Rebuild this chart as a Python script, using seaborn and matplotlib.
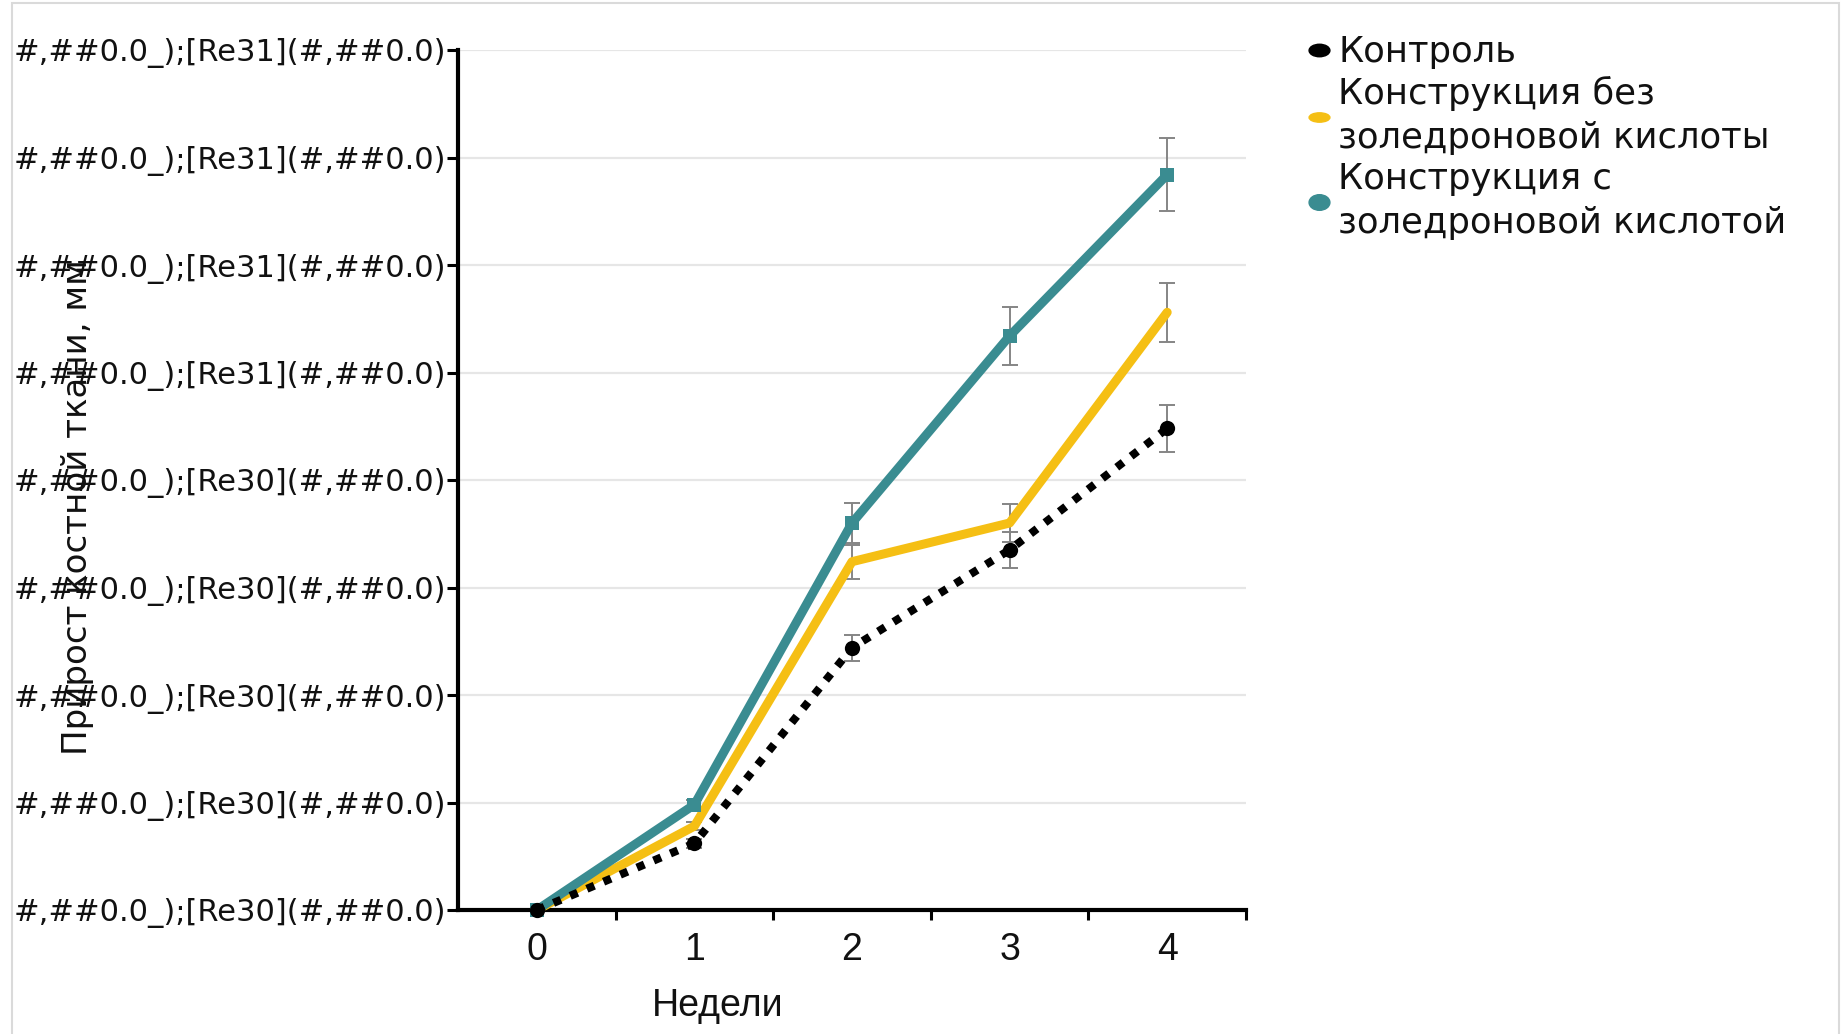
import numpy as np
import pandas as pd
import seaborn as sns
import matplotlib
matplotlib.use("Agg")
import matplotlib.pyplot as plt
from matplotlib.lines import Line2D
from matplotlib.path import Path
from matplotlib.transforms import Affine2D
from matplotlib.patches import Rectangle

# ---------------- data ----------------
weeks = [0, 1, 2, 3, 4]
week_labels = ["0", "1", "2", "3", "4"]

series_names = ["Контроль",
                "Конструкция без\nзоледроновой кислоты",
                "Конструкция с\nзоледроновой кислотой"]

control = [0.0, 0.31, 1.22, 1.675, 2.24]
control_err = [0.0, 0.02, 0.06, 0.085, 0.11]

no_zol = [0.0, 0.39, 1.62, 1.80, 2.78]
no_zol_err = [0.0, 0.02, 0.08, 0.09, 0.137]

with_zol = [0.0, 0.49, 1.80, 2.67, 3.42]
with_zol_err = [0.0, 0.02, 0.095, 0.135, 0.17]

y_ticks = [0.0, 0.5, 1.0, 1.5, 2.0, 2.5, 3.0, 3.5, 4.0]
y_tick_labels = ["#,##0.0_);[Re30](#,##0.0)"] * 5 + ["#,##0.0_);[Re31](#,##0.0)"] * 4

x_label = "Недели"
y_label = "Прирост костной ткани, мм"

colors = ["#000000", "#f5bf14", "#3a8c91"]
text_color = "#111111"

# ---------------- style ----------------
sns.set_theme(style="white")
plt.rcParams["font.family"] = ["DejaVu Sans"]

W, H = 1843, 1034
fig = plt.figure(figsize=(W / 100, H / 100), dpi=100)
ax = fig.add_axes([458 / W, 1 - 910 / H, (1246 - 458) / W, (910 - 50) / H])

df = pd.DataFrame({
    "week": weeks * 3,
    "value": control + no_zol + with_zol,
    "group": [series_names[0]] * 5 + [series_names[1]] * 5 + [series_names[2]] * 5,
})

# error bars (behind lines)
for vals, errs in [(control, control_err), (no_zol, no_zol_err), (with_zol, with_zol_err)]:
    ax.errorbar(weeks, vals, yerr=errs, fmt="none", ecolor="#858585",
                elinewidth=1.4, capsize=5.5, capthick=1.4, zorder=2, clip_on=False)

# yellow
sns.lineplot(data=df[df.group == series_names[1]], x="week", y="value", ax=ax,
             color=colors[1], lw=6.5, legend=False, zorder=3, clip_on=False,
             errorbar=None)
# teal
sns.lineplot(data=df[df.group == series_names[2]], x="week", y="value", ax=ax,
             color=colors[2], lw=6.5, marker="s", markersize=10, markeredgewidth=0,
             legend=False, zorder=4, clip_on=False, errorbar=None)
# black dotted
sns.lineplot(data=df[df.group == series_names[0]], x="week", y="value", ax=ax,
             color=colors[0], lw=5.8, marker="o", markersize=11, markeredgewidth=0,
             legend=False, zorder=5, clip_on=False, errorbar=None)
ax.lines[-1].set_linestyle((0, (1.0, 1.25)))

ax.set_xlim(-0.5, 4.5)
ax.set_ylim(0, 4.0)

ax.set_xticks(weeks)
ax.set_xticklabels(week_labels, fontsize=27, family=["Liberation Sans", "DejaVu Sans"],
                   color=text_color)
ax.set_xticks([0.5, 1.5, 2.5, 3.5, 4.5], minor=True)
ax.tick_params(axis="x", which="major", length=0, pad=16)
ax.tick_params(axis="x", which="minor", length=7, width=2.2, color="black",
               direction="out", bottom=True)

ax.set_yticks(y_ticks)
ax.set_yticklabels(y_tick_labels, fontsize=22.0, color=text_color)
ax.tick_params(axis="y", which="major", length=8, width=2.2, color="black",
               direction="out", pad=0.5, left=True)

ax.yaxis.grid(True, color="#e6e6e6", lw=1.6)
ax.xaxis.grid(False)
ax.set_axisbelow(True)

for s in ["top", "right"]:
    ax.spines[s].set_visible(False)
for s in ["left", "bottom"]:
    ax.spines[s].set_color("black")
    ax.spines[s].set_linewidth(3)

ax.set_xlabel(x_label, fontsize=27, family=["Liberation Sans", "DejaVu Sans"], color=text_color)
ax.xaxis.set_label_coords(0.33, -0.091)
ax.set_ylabel(y_label, fontsize=24.5, color=text_color)
ax.yaxis.set_label_coords(-0.462, 0.468)

# legend with marker-only handles
def ellipse(ry):
    return Path.unit_circle().transformed(Affine2D().scale(1.0, ry))

handles = [
    Line2D([], [], ls="none", marker=ellipse(0.6), markersize=15, color=colors[0]),
    Line2D([], [], ls="none", marker=ellipse(0.45), markersize=15, color=colors[1]),
    Line2D([], [], ls="none", marker=ellipse(0.75), markersize=15, color=colors[2]),
]
leg = fig.legend(handles, series_names, loc="upper left",
                 bbox_to_anchor=(1308 / W, 1 - 35 / H), frameon=False,
                 fontsize=25.5, handlelength=0.6, handletextpad=0.25,
                 borderpad=0, borderaxespad=0, labelspacing=0.2)
for t in leg.get_texts():
    t.set_color(text_color)
    t.set_linespacing(1.37)

# light border around the picture
fig.patches.append(Rectangle((12 / W, -0.01), (1839 - 12) / W, 1.01 - 3 / H,
                             transform=fig.transFigure, fill=False,
                             edgecolor="#dadada", lw=1.5))

fig.savefig("out.png", dpi=100, facecolor="white")
